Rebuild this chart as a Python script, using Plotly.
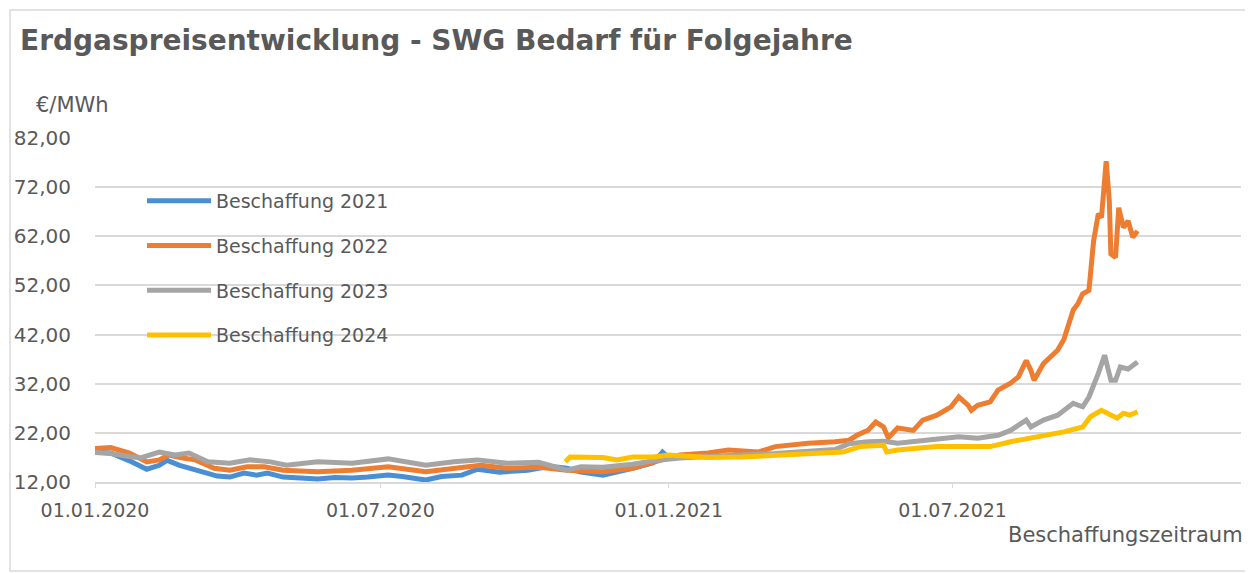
import plotly.graph_objects as go

# ---------------- data ----------------
dates_2021 = ["2020-01-01", "2020-01-11", "2020-01-23", "2020-01-30", "2020-02-03", "2020-02-11",
              "2020-02-16", "2020-02-24", "2020-03-01", "2020-03-10", "2020-03-19", "2020-03-27",
              "2020-04-05", "2020-04-13", "2020-04-20", "2020-04-30", "2020-05-10", "2020-05-22",
              "2020-06-02", "2020-06-13", "2020-06-23", "2020-07-06", "2020-07-15", "2020-07-30",
              "2020-08-09", "2020-08-22", "2020-09-01", "2020-09-15", "2020-10-03", "2020-10-17",
              "2020-10-28", "2020-11-06", "2020-11-20", "2020-11-29", "2020-12-09", "2020-12-22",
              "2020-12-28", "2020-12-31"]
values_2021 = [18.1, 17.9, 16.3, 15.1, 14.6, 15.4,
               16.4, 15.4, 14.9, 14.1, 13.2, 13.0,
               13.8, 13.4, 13.8, 13.0, 12.9, 12.6,
               12.9, 12.8, 13.0, 13.4, 13.1, 12.4,
               13.1, 13.4, 14.6, 14.0, 14.4, 15.2,
               14.8, 14.0, 13.4, 14.0, 14.8, 15.9,
               18.1, 17.2]

dates_2022 = ["2020-01-01", "2020-01-11", "2020-01-23", "2020-02-03", "2020-02-11", "2020-02-17",
              "2020-02-26", "2020-03-05", "2020-03-17", "2020-03-27", "2020-04-07", "2020-04-18",
              "2020-04-30", "2020-05-22", "2020-06-13", "2020-07-06", "2020-07-30", "2020-08-17",
              "2020-09-03", "2020-09-20", "2020-10-10", "2020-10-28", "2020-11-20", "2020-12-09",
              "2020-12-22", "2021-01-01", "2021-01-08", "2021-01-26", "2021-02-08", "2021-02-27",
              "2021-03-10", "2021-03-31", "2021-04-17", "2021-04-26", "2021-05-01", "2021-05-08",
              "2021-05-13", "2021-05-18", "2021-05-21", "2021-05-27", "2021-06-06", "2021-06-12",
              "2021-06-21", "2021-06-30", "2021-07-05", "2021-07-11", "2021-07-13", "2021-07-17",
              "2021-07-25", "2021-07-30", "2021-08-07", "2021-08-12", "2021-08-17", "2021-08-20",
              "2021-08-22", "2021-08-28", "2021-09-06", "2021-09-10", "2021-09-16", "2021-09-19",
              "2021-09-22", "2021-09-26", "2021-09-29", "2021-10-02", "2021-10-04", "2021-10-07",
              "2021-10-09", "2021-10-10", "2021-10-13", "2021-10-15", "2021-10-18", "2021-10-21",
              "2021-10-24", "2021-10-27"]
values_2022 = [18.8, 19.0, 17.9, 16.1, 16.5, 17.5,
               16.9, 16.5, 14.8, 14.4, 15.1, 15.1,
               14.4, 14.1, 14.4, 15.1, 14.1, 14.8,
               15.4, 14.8, 15.0, 14.4, 14.1, 14.8,
               16.1, 16.9, 17.5, 17.9, 18.5, 18.1,
               19.2, 19.9, 20.2, 20.5, 21.5, 22.5,
               24.2, 23.2, 21.0, 23.0, 22.5, 24.6,
               25.6, 27.3, 29.3, 27.6, 26.6, 27.6,
               28.3, 30.7, 32.1, 33.4, 36.7, 34.7,
               32.7, 36.1, 38.8, 41.0, 47.0, 48.3,
               50.3, 51.0, 61.1, 66.6, 65.8, 77.3,
               69.2, 58.4, 57.7, 67.8, 63.8, 65.1,
               61.8, 63.1]

dates_2023 = ["2020-01-01", "2020-01-11", "2020-01-23", "2020-01-30", "2020-02-11", "2020-02-21",
              "2020-03-01", "2020-03-13", "2020-03-27", "2020-04-09", "2020-04-22", "2020-05-02",
              "2020-05-22", "2020-06-13", "2020-07-06", "2020-07-30", "2020-08-17", "2020-09-01",
              "2020-09-20", "2020-10-10", "2020-10-28", "2020-11-06", "2020-11-20", "2020-12-09",
              "2020-12-22", "2021-01-08", "2021-02-08", "2021-03-10", "2021-04-17", "2021-04-26",
              "2021-05-08", "2021-05-18", "2021-05-27", "2021-06-12", "2021-06-21", "2021-07-05",
              "2021-07-17", "2021-07-30", "2021-08-07", "2021-08-17", "2021-08-20", "2021-08-28",
              "2021-09-06", "2021-09-16", "2021-09-22", "2021-09-26", "2021-10-02", "2021-10-06",
              "2021-10-10", "2021-10-13", "2021-10-16", "2021-10-21", "2021-10-24", "2021-10-27"]
values_2023 = [18.0, 17.8, 17.2, 16.9, 18.1, 17.5,
               17.9, 16.1, 15.8, 16.5, 16.1, 15.4,
               16.1, 15.8, 16.7, 15.4, 16.1, 16.5,
               15.8, 16.0, 14.4, 15.1, 15.0, 15.6,
               16.3, 16.9, 17.4, 17.8, 18.6, 19.8,
               20.2, 20.3, 19.9, 20.5, 20.9, 21.2,
               20.9, 21.5, 22.5, 24.6, 23.2, 24.6,
               25.6, 28.0, 27.3, 29.3, 34.1, 37.8,
               32.7, 32.7, 35.4, 35.0, 35.7, 36.4]

dates_2024 = ["2020-10-27", "2020-10-30", "2020-11-20", "2020-11-29", "2020-12-09", "2020-12-22",
              "2021-01-01", "2021-01-08", "2021-01-26", "2021-02-17", "2021-03-10", "2021-03-31",
              "2021-04-22", "2021-05-03", "2021-05-13", "2021-05-18", "2021-05-20", "2021-05-27",
              "2021-06-21", "2021-07-13", "2021-07-25", "2021-08-07", "2021-08-24", "2021-09-10",
              "2021-09-22", "2021-09-27", "2021-10-04", "2021-10-08", "2021-10-14", "2021-10-18",
              "2021-10-22", "2021-10-27"]
values_2024 = [16.1, 17.1, 17.0, 16.5, 17.1, 17.1,
               17.5, 17.3, 17.0, 17.1, 17.5, 17.9,
               18.1, 19.2, 19.5, 19.5, 18.1, 18.5,
               19.2, 19.2, 19.2, 20.2, 21.2, 22.2,
               23.2, 25.3, 26.6, 26.0, 25.0, 26.0,
               25.6, 26.3]

series_names = ["Beschaffung 2021", "Beschaffung 2022", "Beschaffung 2023", "Beschaffung 2024"]
series_colors = ["#4A8FD4", "#ED7D31", "#A5A5A5", "#FFC000"]

tick_dates = ["2020-01-01", "2020-07-01", "2021-01-01", "2021-07-01"]
tick_labels = ["01.01.2020", "01.07.2020", "01.01.2021", "01.07.2021"]
y_ticks = [12, 22, 32, 42, 52, 62, 72, 82]

title_text = "Erdgaspreisentwicklung - SWG Bedarf für Folgejahre"
y_unit = "€/MWh"
x_title = "Beschaffungszeitraum"

# ---------------- figure ----------------
TEXT = "#595959"
GRID = "#D9D9D9"
FONT = "DejaVu Sans"
OFF = 8           # default page body margin
W, H = 1253 - OFF, 573 - OFF
PL, PR, PT, PB = 95, 1241, 138, 482   # plot box in page pixels
PW, PH = PR - PL, PB - PT

fig = go.Figure()
all_dates = [dates_2021, dates_2022, dates_2023, dates_2024]
all_vals = [values_2021, values_2022, values_2023, values_2024]
for i, (name, d, v, c) in enumerate(zip(series_names, all_dates, all_vals, series_colors)):
    fig.add_trace(go.Scatter(
        x=d, y=v, mode="lines", name=name,
        line=dict(color=c, width=5),
        legendgroup=f"g{i}",
    ))

fig.update_layout(
    width=W, height=H,
    margin=dict(l=PL - OFF, r=W - (PR - OFF), t=PT - OFF, b=H - (PB - OFF), autoexpand=False),
    paper_bgcolor="white", plot_bgcolor="white",
    separators=",.",
    font=dict(family=FONT, color=TEXT, size=19),
    title=dict(text=f"<b>{title_text}</b>", x=(20 - OFF) / W, xanchor="left",
               xref="container", y=1 - (40 - OFF) / H, yanchor="middle", yref="container",
               font=dict(family=FONT, size=28, color=TEXT)),
    showlegend=True,
    legend=dict(x=(142 - PL) / PW, y=(PB - 182) / PH, xanchor="left", yanchor="top",
                bgcolor="rgba(0,0,0,0)", font=dict(family=FONT, size=19, color=TEXT),
                itemwidth=64, tracegroupgap=17, traceorder="grouped"),
    xaxis=dict(range=["2020-01-01", "2022-01-01"], tickmode="array",
               tickvals=tick_dates, ticktext=tick_labels, automargin=False,
               showgrid=False, showline=True, linecolor=GRID, linewidth=1.5,
               ticks="outside", ticklen=4, tickcolor=GRID, ticklabelstandoff=6,
               tickfont=dict(family=FONT, size=19, color=TEXT), zeroline=False),
    yaxis=dict(range=[12, 82], tickmode="array", tickvals=y_ticks, tickformat=".2f",
               automargin=False,
               showgrid=True, gridcolor=GRID, gridwidth=1.5, zeroline=False,
               showline=False, ticklabelstandoff=23,
               tickfont=dict(family=FONT, size=20, color=TEXT)),
    annotations=[
        dict(text=y_unit, xref="paper", yref="paper", x=(34 - PL) / PW, y=(PB - 105) / PH,
             xanchor="left", yanchor="middle", showarrow=False,
             font=dict(family=FONT, size=21, color=TEXT)),
        dict(text=x_title, xref="paper", yref="paper", x=(1245 - PL) / PW, y=(PB - 535) / PH,
             xanchor="right", yanchor="middle", showarrow=False,
             font=dict(family=FONT, size=21, color=TEXT)),
    ],
    shapes=[dict(type="rect", xref="paper", yref="paper",
                 x0=(10 - PL) / PW, x1=(1251 - PL) / PW,
                 y0=(PB - 571) / PH, y1=(PB - 10) / PH,
                 line=dict(color=GRID, width=1.5), layer="below")],
)

fig.write_html("out.html")
